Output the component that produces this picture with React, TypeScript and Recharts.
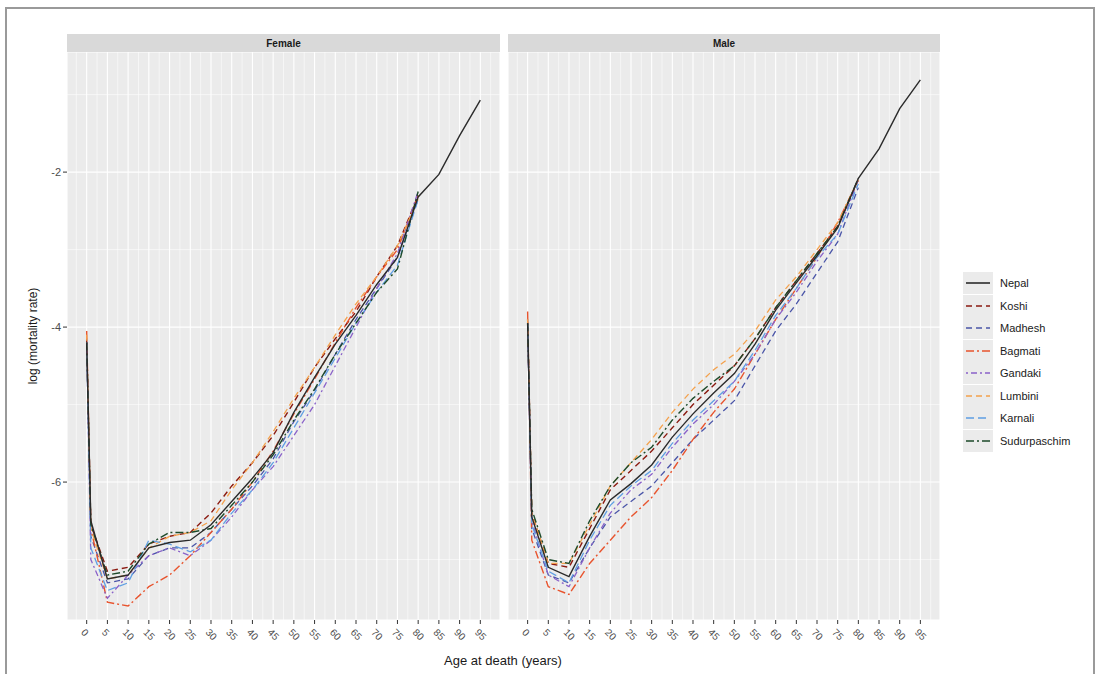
import React from "react";
import { LineChart, Line, XAxis, YAxis, CartesianGrid, ReferenceLine } from "recharts";

const ages = [0, 1, 5, 10, 15, 20, 25, 30, 35, 40, 45, 50, 55, 60, 65, 70, 75, 80, 85, 90, 95];
const xTicks = [0, 5, 10, 15, 20, 25, 30, 35, 40, 45, 50, 55, 60, 65, 70, 75, 80, 85, 90, 95];
const xMinor = [-2.5, 2.5, 7.5, 12.5, 17.5, 22.5, 27.5, 32.5, 37.5, 42.5, 47.5, 52.5, 57.5, 62.5, 67.5, 72.5, 77.5, 82.5, 87.5, 92.5, 97.5];
const yTicks = [-6, -4, -2];
const yMinor = [-7, -5, -3, -1];

// Female
const femaleNepal = [-4.2, -6.5, -7.25, -7.2, -6.85, -6.78, -6.75, -6.55, -6.25, -5.95, -5.62, -5.1, -4.65, -4.22, -3.85, -3.45, -3.1, -2.32, -2.03, -1.53, -1.07];
const femaleKoshi = [-4.15, -6.55, -7.15, -7.1, -6.8, -6.7, -6.65, -6.4, -6.05, -5.75, -5.4, -4.97, -4.52, -4.15, -3.8, -3.35, -2.95, -2.3];
const femaleMadhesh = [-4.2, -6.7, -7.3, -7.25, -6.95, -6.85, -6.85, -6.65, -6.35, -6.05, -5.7, -5.22, -4.82, -4.35, -3.9, -3.5, -3.1, -2.35];
const femaleBagmati = [-4.05, -6.6, -7.55, -7.6, -7.35, -7.2, -6.95, -6.65, -6.35, -6.0, -5.6, -5.12, -4.67, -4.2, -3.75, -3.35, -3.0, -2.3];
const femaleGandaki = [-4.2, -7.0, -7.5, -7.2, -6.95, -6.85, -6.95, -6.75, -6.45, -6.1, -5.8, -5.4, -5.0, -4.5, -4.0, -3.5, -3.05, -2.25];
const femaleLumbini = [-4.1, -6.6, -7.25, -7.2, -6.85, -6.7, -6.65, -6.5, -6.1, -5.75, -5.35, -4.92, -4.52, -4.1, -3.7, -3.35, -2.95, -2.35];
const femaleKarnali = [-4.2, -6.85, -7.4, -7.3, -6.75, -6.8, -6.9, -6.75, -6.4, -6.1, -5.75, -5.3, -4.85, -4.4, -3.95, -3.55, -3.2, -2.35];
const femaleSudurpaschim = [-4.2, -6.55, -7.2, -7.15, -6.8, -6.65, -6.65, -6.6, -6.3, -6.0, -5.65, -5.2, -4.8, -4.35, -3.95, -3.55, -3.25, -2.25];

// Male
const maleNepal = [-3.95, -6.45, -7.1, -7.22, -6.7, -6.23, -6.02, -5.78, -5.42, -5.12, -4.85, -4.6, -4.22, -3.78, -3.43, -3.08, -2.72, -2.08, -1.7, -1.18, -0.81];
const maleKoshi = [-3.9, -6.4, -7.05, -7.1, -6.6, -6.1, -5.85, -5.6, -5.3, -5.0, -4.75, -4.5, -4.15, -3.75, -3.4, -3.05, -2.7, -2.1];
const maleMadhesh = [-3.95, -6.6, -7.2, -7.3, -6.85, -6.45, -6.25, -6.05, -5.75, -5.45, -5.2, -4.95, -4.5, -4.05, -3.7, -3.3, -2.9, -2.2];
const maleBagmati = [-3.8, -6.75, -7.35, -7.45, -7.05, -6.75, -6.45, -6.2, -5.85, -5.45, -5.1, -4.8, -4.35, -3.9, -3.5, -3.1, -2.65, -2.1];
const maleGandaki = [-4.0, -6.5, -7.2, -7.35, -6.85, -6.4, -6.1, -5.9, -5.55, -5.25, -5.0, -4.7, -4.35, -3.9, -3.55, -3.15, -2.8, -2.1];
const maleLumbini = [-3.9, -6.4, -7.05, -7.05, -6.55, -6.05, -5.75, -5.45, -5.1, -4.8, -4.55, -4.35, -4.05, -3.65, -3.35, -3.0, -2.65, -2.1];
const maleKarnali = [-3.95, -6.55, -7.15, -7.3, -6.75, -6.3, -6.05, -5.85, -5.5, -5.2, -4.95, -4.7, -4.3, -3.85, -3.5, -3.1, -2.8, -2.15];
const maleSudurpaschim = [-3.95, -6.35, -7.0, -7.05, -6.5, -6.05, -5.75, -5.55, -5.2, -4.92, -4.7, -4.5, -4.15, -3.75, -3.4, -3.05, -2.7, -2.08];

const regions = ["Nepal", "Koshi", "Madhesh", "Bagmati", "Gandaki", "Lumbini", "Karnali", "Sudurpaschim"];

const styles: Record<string, { color: string; dash?: string; width: number }> = {
  Nepal: { color: "#2b2b2b", width: 1.4 },
  Koshi: { color: "#8b1a10", dash: "6 4", width: 1.4 },
  Madhesh: { color: "#4a55a8", dash: "6 4", width: 1.3 },
  Bagmati: { color: "#e8542e", dash: "8 3 2 3", width: 1.4 },
  Gandaki: { color: "#8a62c9", dash: "2 3 6 3", width: 1.3 },
  Lumbini: { color: "#f4a14c", dash: "6 4", width: 1.3 },
  Karnali: { color: "#5f9fe3", dash: "8 4", width: 1.3 },
  Sudurpaschim: { color: "#1d4a2a", dash: "8 3 2 3", width: 1.4 },
};

const femaleSeries: Record<string, number[]> = {
  Nepal: femaleNepal, Koshi: femaleKoshi, Madhesh: femaleMadhesh, Bagmati: femaleBagmati,
  Gandaki: femaleGandaki, Lumbini: femaleLumbini, Karnali: femaleKarnali, Sudurpaschim: femaleSudurpaschim,
};
const maleSeries: Record<string, number[]> = {
  Nepal: maleNepal, Koshi: maleKoshi, Madhesh: maleMadhesh, Bagmati: maleBagmati,
  Gandaki: maleGandaki, Lumbini: maleLumbini, Karnali: maleKarnali, Sudurpaschim: maleSudurpaschim,
};

function build(series: Record<string, number[]>) {
  return ages.map((age, i) => {
    const row: Record<string, number | null> = { age };
    regions.forEach((r) => {
      const v = series[r][i];
      row[r] = v === undefined ? null : v;
    });
    return row;
  });
}

const femaleData = build(femaleSeries);
const maleData = build(maleSeries);

const FONT = "'Liberation Sans', Arial, Helvetica, sans-serif";

const XTick = (props: any) => {
  const { x, y, payload } = props;
  const tx = x - 1;
  const ty = y + 2;
  return (
    <text x={tx} y={ty} transform={`rotate(45, ${tx}, ${ty})`} textAnchor="start" dominantBaseline="hanging" fontSize={10} fill="#4d4d4d" fontFamily={FONT}>
      {payload.value}
    </text>
  );
};

const YTick = (props: any) => {
  const { x, y, payload } = props;
  return (
    <text x={x} y={y} textAnchor="end" dominantBaseline="central" fontSize={11} fill="#4d4d4d" fontFamily={FONT}>
      {payload.value}
    </text>
  );
};

const Y_DOMAIN: [number, number] = [-7.78, -0.45];
const X_DOMAIN: [number, number] = [-4.75, 99.75];

function Panel({ data, showY, left, marginLeft }: { data: any[]; showY: boolean; left: number; marginLeft: number }) {
  return (
    <div style={{ position: "absolute", left, top: 0 }}>
      <LineChart width={510} height={674} data={data} margin={{ top: 52, right: 10, bottom: 24, left: marginLeft }}>
        <CartesianGrid fill="#ebebeb" stroke="#ffffff" strokeWidth={1.1} />
        {xMinor.map((v) => (
          <ReferenceLine key={"xm" + v} x={v} stroke="#ffffff" strokeWidth={0.55} ifOverflow="hidden" />
        ))}
        {yMinor.map((v) => (
          <ReferenceLine key={"ym" + v} y={v} stroke="#ffffff" strokeWidth={0.55} ifOverflow="hidden" />
        ))}
        <XAxis
          dataKey="age"
          type="number"
          domain={X_DOMAIN}
          ticks={xTicks}
          interval={0}
          axisLine={false}
          tickLine={{ stroke: "#333333" }}
          tickSize={4}
          height={30}
          tick={<XTick />}
          allowDataOverflow
        />
        <YAxis
          type="number"
          domain={Y_DOMAIN}
          ticks={yTicks}
          hide={!showY}
          width={30}
          axisLine={false}
          tickLine={{ stroke: "#333333" }}
          tickSize={4}
          tick={<YTick />}
          allowDataOverflow
        />
        {regions.slice(1).concat(["Nepal"]).map((r) => (
          <Line
            key={r}
            dataKey={r}
            type="linear"
            stroke={styles[r].color}
            strokeWidth={styles[r].width}
            strokeDasharray={styles[r].dash}
            dot={false}
            activeDot={false}
            connectNulls={false}
            isAnimationActive={false}
          />
        ))}
      </LineChart>
    </div>
  );
}

function Strip({ left, width, label }: { left: number; width: number; label: string }) {
  return (
    <div
      style={{
        position: "absolute", left, top: 34, width, height: 18, background: "#d9d9d9",
        display: "flex", alignItems: "center", justifyContent: "center",
        fontFamily: FONT, fontSize: 10, fontWeight: "bold", color: "#1a1a1a",
      }}
    >
      {label}
    </div>
  );
}

function LegendKey({ r }: { r: string }) {
  const s = styles[r];
  return (
    <svg width={30} height={22} style={{ display: "block" }}>
      <rect x={0} y={0} width={30} height={22} fill="#ebebeb" />
      <line x1={3} y1={11} x2={27} y2={11} stroke={s.color} strokeWidth={s.width + 0.2} strokeDasharray={s.dash} />
    </svg>
  );
}

export default function App() {
  return (
    <div style={{ position: "fixed", left: 0, top: 0, width: 1099, height: 674, overflow: "hidden", background: "#ffffff" }}>
      <div style={{ position: "absolute", left: 5, top: 7, width: 1090, height: 700, border: "2px solid #9a9a9a", boxSizing: "border-box" }} />
      <Panel data={femaleData} showY={true} left={0} marginLeft={37} />
      <Panel data={maleData} showY={false} left={440} marginLeft={68} />
      <Strip left={67} width={433} label="Female" />
      <Strip left={508} width={432} label="Male" />
      <div
        style={{
          position: "absolute", left: 33, top: 336, transform: "translate(-50%, -50%) rotate(-90deg)",
          whiteSpace: "nowrap", fontFamily: FONT, fontSize: 12, color: "#1a1a1a",
        }}
      >
        log (mortality rate)
      </div>
      <div
        style={{
          position: "absolute", left: 503, top: 660, transform: "translate(-50%, -50%)",
          whiteSpace: "nowrap", fontFamily: FONT, fontSize: 13, color: "#1a1a1a",
        }}
      >
        Age at death (years)
      </div>
      <div style={{ position: "absolute", left: 963, top: 272 }}>
        {regions.map((r) => (
          <div key={r} style={{ display: "flex", alignItems: "center", height: 22.5 }}>
            <LegendKey r={r} />
            <span style={{ marginLeft: 7, fontFamily: FONT, fontSize: 11, color: "#1a1a1a" }}>{r}</span>
          </div>
        ))}
      </div>
    </div>
  );
}
